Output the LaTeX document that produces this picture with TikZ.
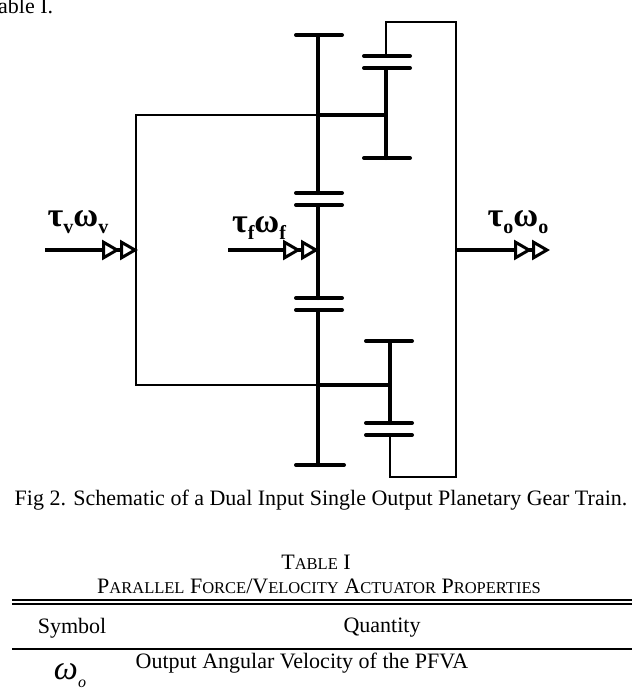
\documentclass[tikz,border=0pt]{standalone}
\usepackage{fontspec}
\setmainfont{Liberation Serif}
\usetikzlibrary{arrows.meta}
\newcommand{\smcp}[1]{{\fontsize{16.5}{18}\selectfont #1}}
\begin{document}
\begin{tikzpicture}[x=1pt,y=-1pt,
  thk/.style={line width=4pt,line cap=round},
  thn/.style={line width=2pt},
  arr/.style={line width=4pt,-{Triangle[open,fill=white,length=18pt,width=20pt,line width=3pt]Triangle[open,fill=white,length=18pt,width=20pt,line width=3pt]}},
  lbl/.style={font=\fontsize{34}{36}\selectfont\bfseries},
  txt/.style={font=\fontsize{22}{24}\selectfont}]
\useasboundingbox (0,0) rectangle (632,694);
% sun / planets column
\coordinate (s1) at (318,193); \coordinate (s2) at (318,205);
\coordinate (s3) at (318,298); \coordinate (s4) at (318,310);
\draw[thk] (296,35) -- (342,35);
\draw[thk] (318,35) -- (s1);
\draw[thk] (296,193) -- (342,193);
\draw[thk] (296,205) -- (342,205);
\draw[thk] (s2) -- (s3);
\draw[thk] (296,298) -- (342,298);
\draw[thk] (296,310) -- (342,310);
\draw[thk] (s4) -- (318,465);
\draw[thk] (296,465) -- (344,465);
% upper planet on carrier
\draw[thk] (364,56) -- (410,56);
\draw[thk] (364,68) -- (410,68);
\draw[thk] (386,68) -- (386,158);
\draw[thk] (364,158) -- (410,158);
% lower planet
\draw[thk] (366,341) -- (412,341);
\draw[thk] (390,341) -- (390,423);
\draw[thk] (366,423) -- (412,423);
\draw[thk] (366,435) -- (412,435);
% ring
\draw[thn] (386,56) -- (386,22) -- (456,22) -- (456,477) -- (390,477) -- (390,435);
% carrier
\draw[thn] (318,115) -- (136,115) -- (136,385) -- (318,385);
\draw[thk,line cap=butt] (318,115) -- (386,115);
\draw[thk,line cap=butt] (318,385) -- (390,385);
% arrows
\coordinate (a0) at (45,250); \coordinate (a1) at (138,250);
\coordinate (b0) at (228,250); \coordinate (b1) at (319,250);
\coordinate (c0) at (456,250); \coordinate (c1) at (550,250);
\draw[arr] (a0) -- (a1);
\draw[arr] (b0) -- (b1);
\draw[arr] (c0) -- (c1);
\node[lbl,inner sep=0] (lv) at (78,222) {τ\raisebox{-7pt}{\fontsize{20}{22}\selectfont v}ω\raisebox{-7pt}{\fontsize{20}{22}\selectfont v}};
\node[lbl,inner sep=0] (lf) at (259,228) {τ\raisebox{-7pt}{\fontsize{20}{22}\selectfont f}ω\raisebox{-7pt}{\fontsize{20}{22}\selectfont f}};
\node[lbl,inner sep=0] (lo) at (518,222) {τ\raisebox{-7pt}{\fontsize{20}{22}\selectfont o}ω\raisebox{-7pt}{\fontsize{20}{22}\selectfont o}};
% text
\node[txt,anchor=west,inner sep=0] (t0) at (-14,6) {Table I.};
\node[txt] (cap) at (321,500) {Fig 2. Schematic of a Dual Input Single Output Planetary Gear Train.};
\node[txt] (tt) at (316,562) {T\smcp{ABLE} I};
\node[txt] (tt2) at (319,586) {P\smcp{ARALLEL} F\smcp{ORCE}/V\smcp{ELOCITY} A\smcp{CTUATOR} P\smcp{ROPERTIES}};
\draw[line width=1.3pt] (12,600) -- (632,600);
\draw[line width=1.3pt] (12,604) -- (632,604);
\node[txt] (h1) at (72,628) {Symbol};
\node[txt] (h2) at (382,628) {Quantity};
\draw[line width=1.3pt] (12,649) -- (632,649);
\node[font=\fontsize{34}{36}\selectfont\itshape,inner sep=0] (w) at (70,676) {ω\raisebox{-8pt}{\fontsize{16}{18}\selectfont o}};
\node[txt] (q) at (302,663) {Output Angular Velocity of the PFVA};
\end{tikzpicture}
\end{document}
